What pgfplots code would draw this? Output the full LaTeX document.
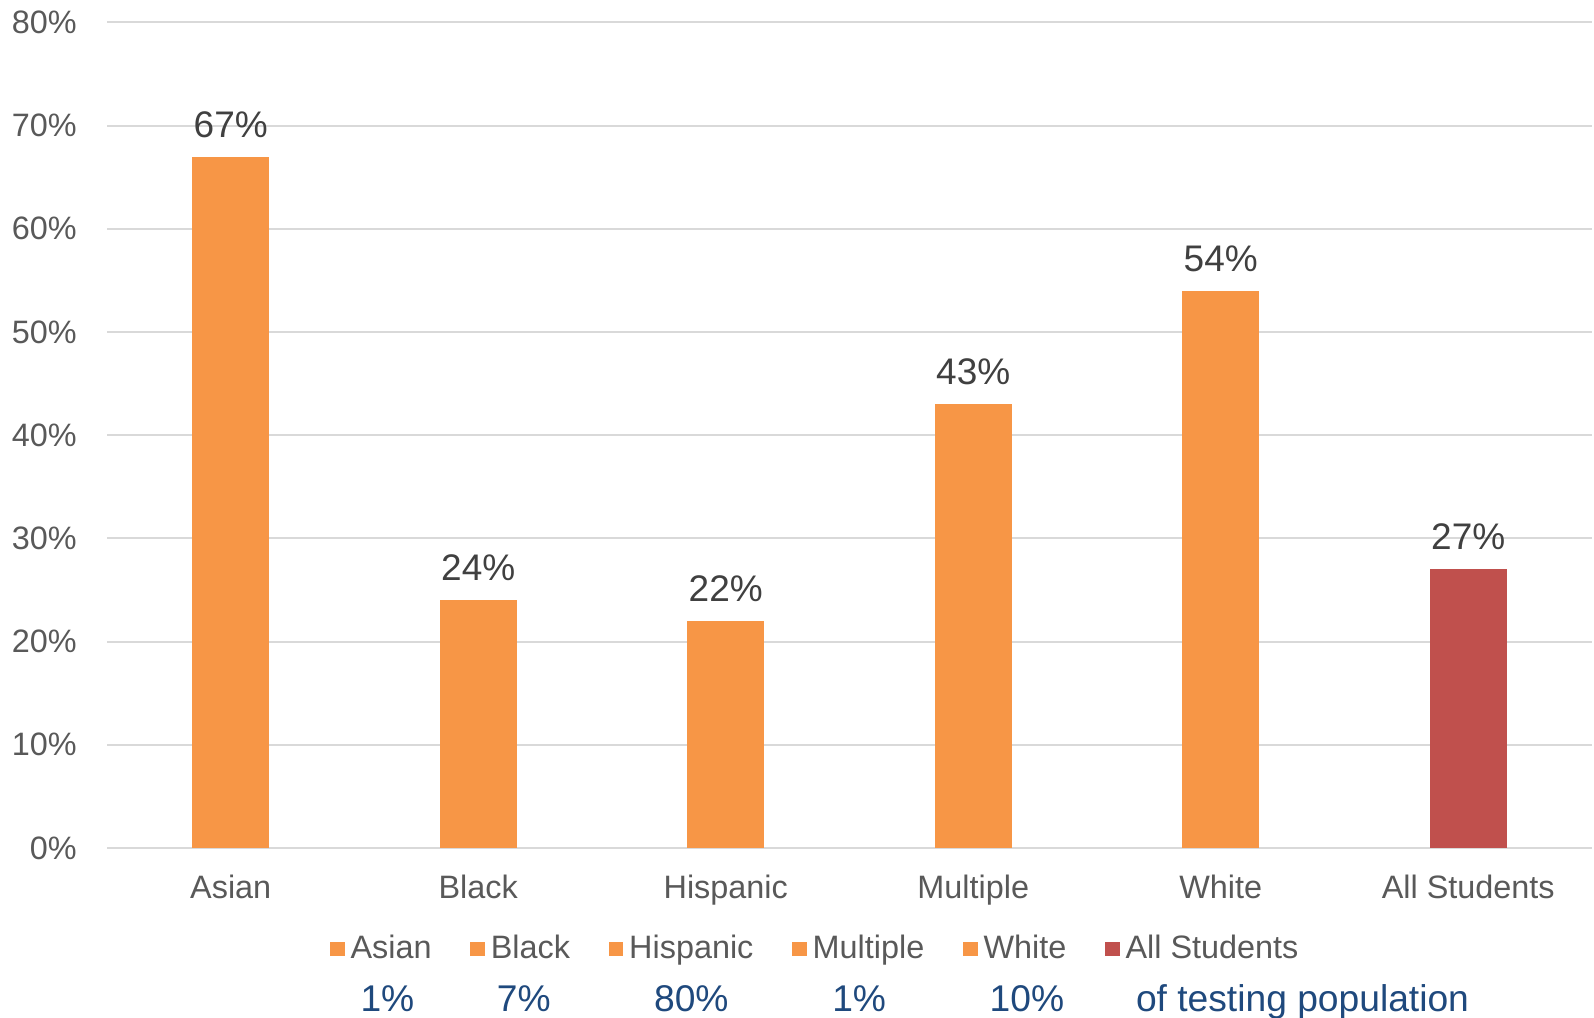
\documentclass[border=0pt]{standalone}
\usepackage{fontspec}
\setmainfont{Liberation Sans}
\usepackage{pgfplots}
\pgfplotsset{compat=1.18}
\definecolor{barorange}{HTML}{F79646}
\definecolor{barred}{HTML}{C0504D}
\definecolor{txtgray}{HTML}{595959}
\definecolor{lblgray}{HTML}{404040}
\definecolor{gridgray}{HTML}{D9D9D9}
\definecolor{popblue}{HTML}{1F497D}
\begin{document}
\begin{tikzpicture}
\begin{axis}[
  name=main,
  scale only axis,
  width=742.5pt, height=412.8pt,
  ybar, bar width=38.5pt, bar shift=0pt,
  every axis plot/.append style={bar shift=0pt},
  xmin=-0.5, xmax=5.5, ymin=0, ymax=80,
  xtick={0,...,5},
  xticklabels={Asian,Black,Hispanic,Multiple,White,All Students},
  ytick={0,10,...,80},
  yticklabels={0\%,10\%,20\%,30\%,40\%,50\%,60\%,70\%,80\%},
  major tick length=0pt,
  axis line style={draw=none},
  ymajorgrids, grid style={gridgray, line width=1pt},
  yticklabel style={font=\fontsize{16.2}{18}\selectfont, text=txtgray, anchor=east, inner sep=0pt, xshift=-15pt},
  xticklabel style={font=\fontsize{16.2}{18}\selectfont, text=txtgray, anchor=base, inner sep=0pt, yshift=-25.3pt},
  nodes near coords={\pgfmathprintnumber[assume math mode=true]{\pgfplotspointmeta}\%},
  every node near coord/.append style={font=\fontsize{18.5}{20}\selectfont, text=lblgray, anchor=base, inner sep=0pt, yshift=9.7pt},
  legend columns=6,
  legend style={at={(rel axis cs:0.150,-0.122)}, anchor=west, draw=none, fill=none,
    font=\fontsize{16.2}{18}\selectfont, text=txtgray,
    nodes={inner sep=3pt},
    /tikz/every even column/.append style={column sep=16.4pt}, inner sep=0pt},
  legend image code/.code={\fill[#1] (0pt,-3.6pt) rectangle (7.2pt,3.6pt);},
  clip=false,
]
\addplot[fill=barorange, draw=none, bar shift=0pt] coordinates {(0,67)};
\addlegendentry{Asian}
\addplot[fill=barorange, draw=none, bar shift=0pt] coordinates {(1,24)};
\addlegendentry{Black}
\addplot[fill=barorange, draw=none, bar shift=0pt] coordinates {(2,22)};
\addlegendentry{Hispanic}
\addplot[fill=barorange, draw=none, bar shift=0pt] coordinates {(3,43)};
\addlegendentry{Multiple}
\addplot[fill=barorange, draw=none, bar shift=0pt] coordinates {(4,54)};
\addlegendentry{White}
\addplot[fill=barred, draw=none, bar shift=0pt] coordinates {(5,27)};
\addlegendentry{All Students}

\begin{scope}[every node/.style={font=\fontsize{18.6}{20}\selectfont, text=popblue, inner sep=0pt}]
\node[anchor=base] at (axis cs:0.633,-15.86) {1\%};
\node[anchor=base] at (axis cs:1.184,-15.86) {7\%};
\node[anchor=base] at (axis cs:1.861,-15.86) {80\%};
\node[anchor=base] at (axis cs:2.539,-15.86) {1\%};
\node[anchor=base] at (axis cs:3.217,-15.86) {10\%};
\node[anchor=base west] at (axis cs:3.656,-15.86) {of testing population};
\end{scope}
\end{axis}
\pgfresetboundingbox
\path[use as bounding box] ([shift={(-53.5pt,-85pt)}]main.south west) rectangle ([shift={(1pt,11.2pt)}]main.north east);
\end{tikzpicture}
\end{document}
